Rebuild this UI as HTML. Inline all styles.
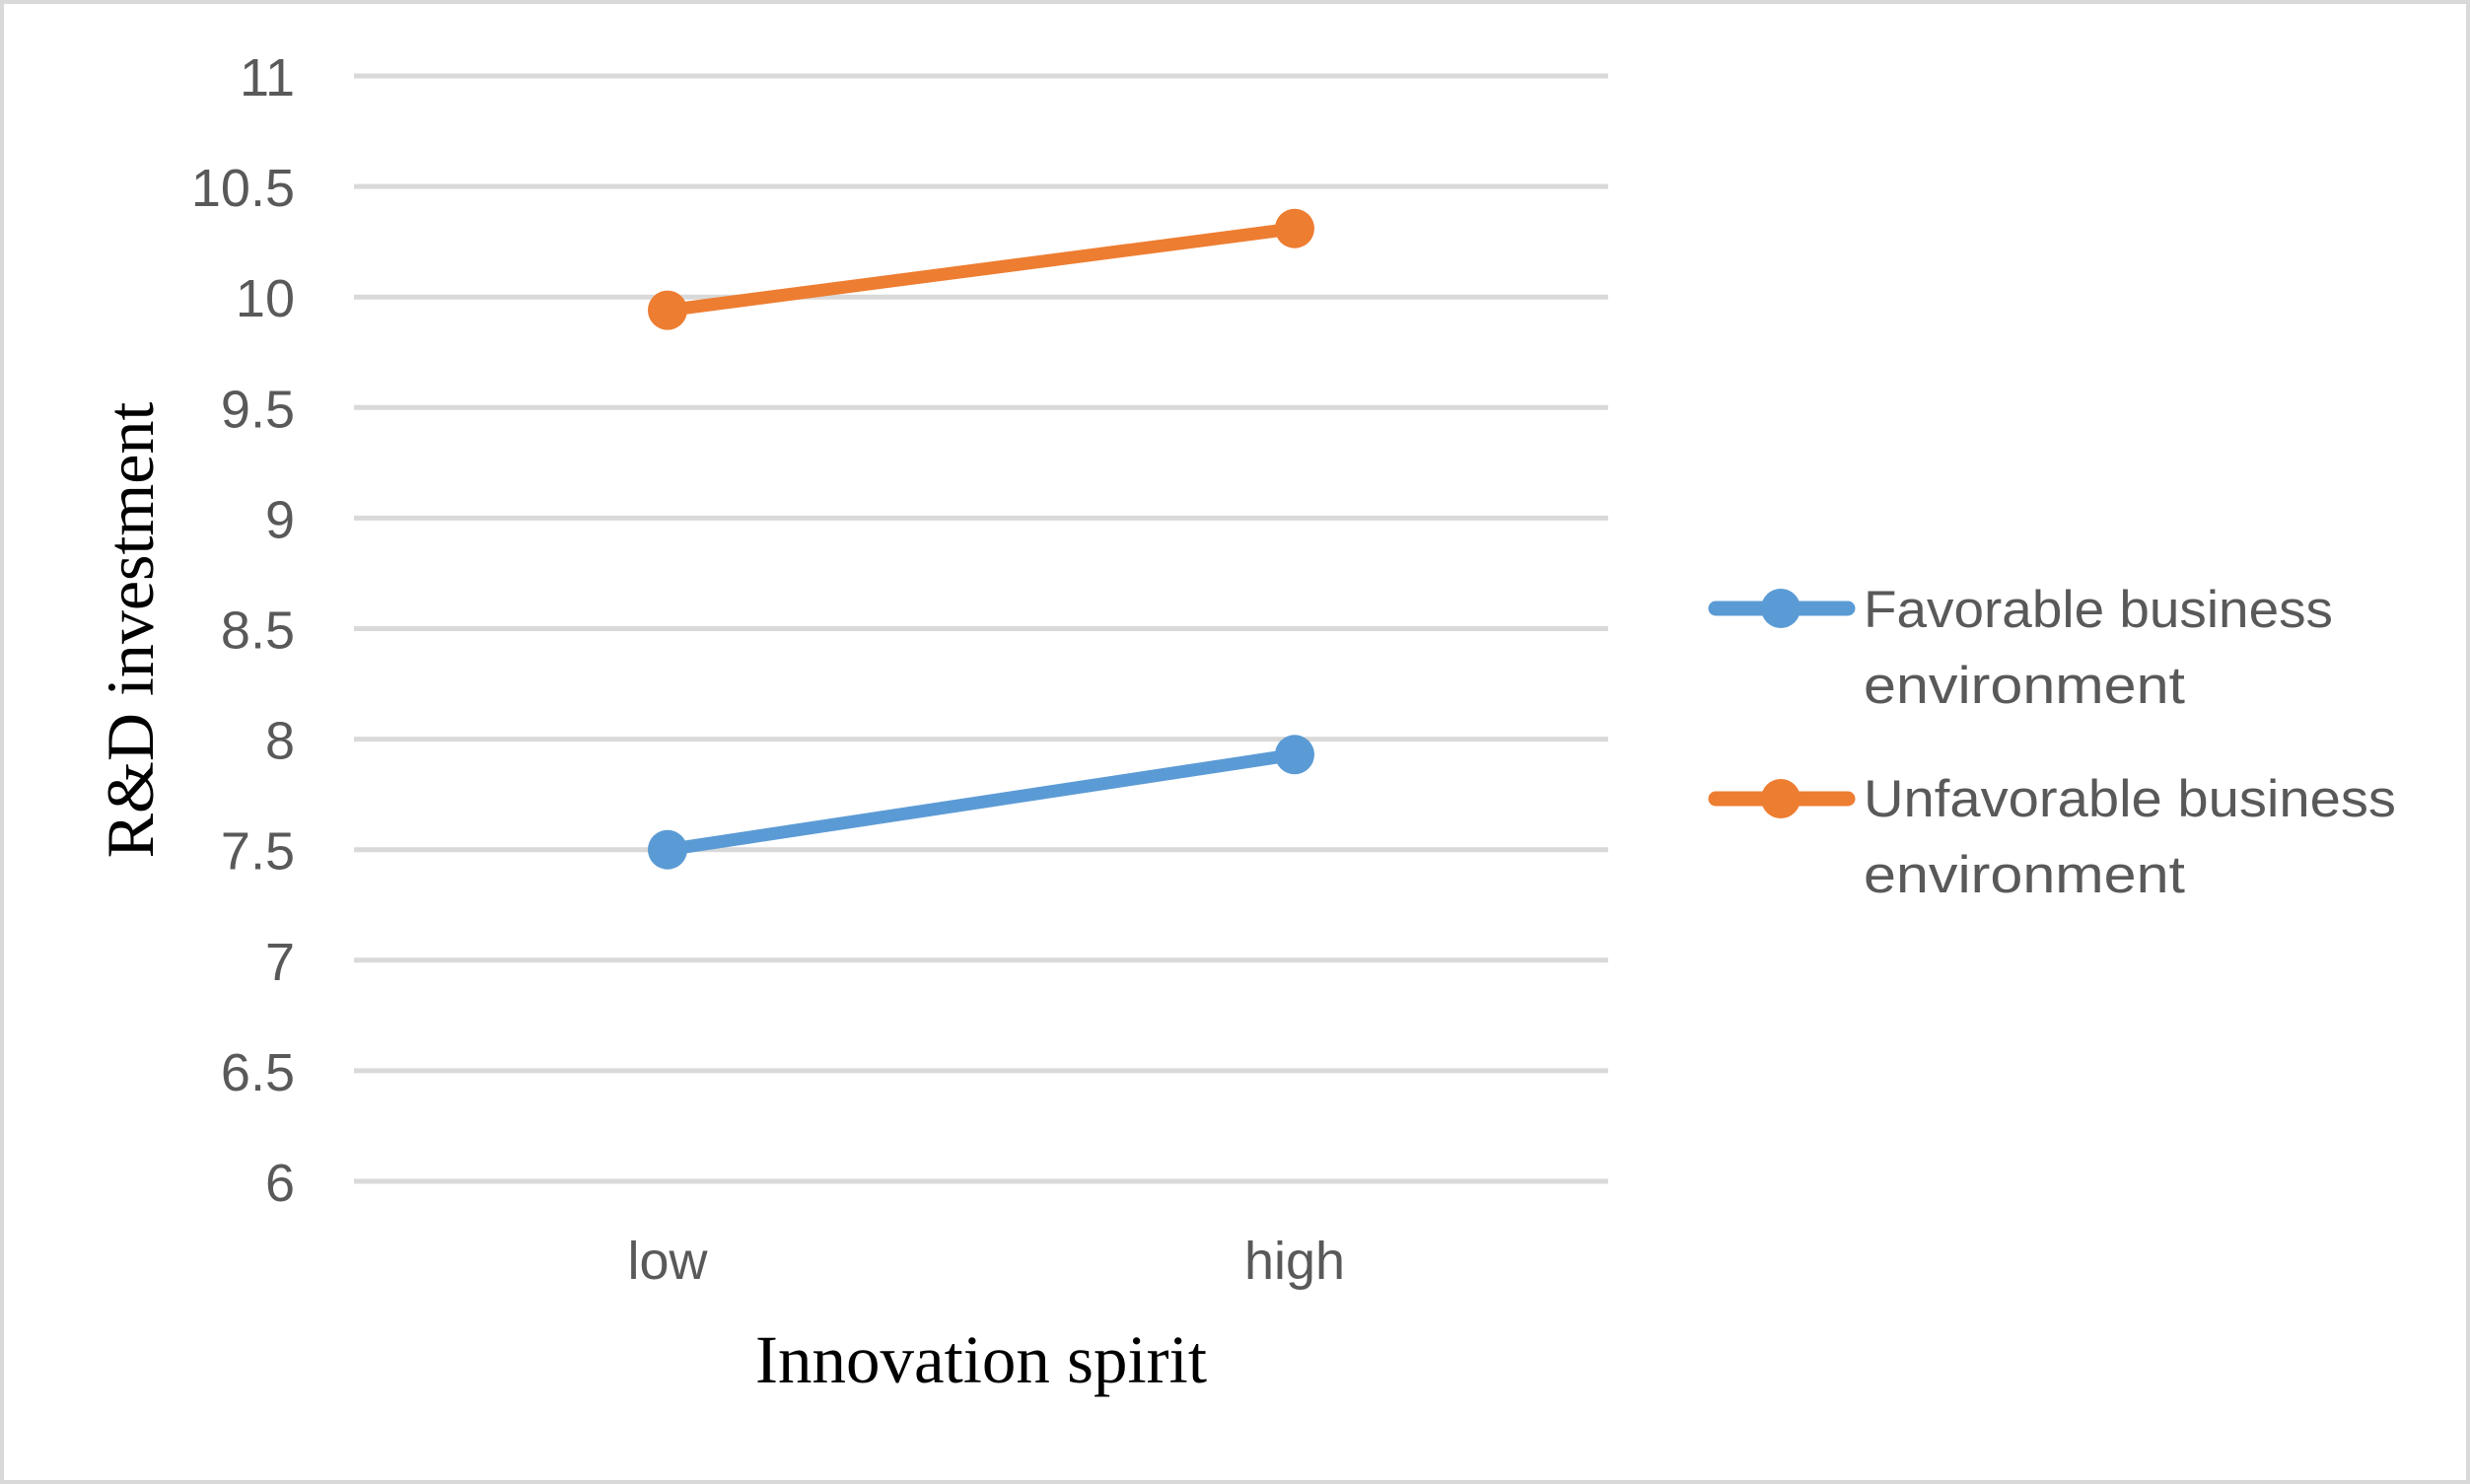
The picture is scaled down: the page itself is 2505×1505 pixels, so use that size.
<!DOCTYPE html>
<html><head><meta charset="utf-8"><style>
html,body{margin:0;padding:0;background:#fff;}
svg{display:block;}
</style></head><body>
<svg width="2505" height="1505" viewBox="0 0 2505 1505" xmlns="http://www.w3.org/2000/svg">
<rect x="2" y="2" width="2501" height="1501" fill="#fff" stroke="#d9d9d9" stroke-width="4"/>
<g id="grid"></g>
<g id="yticks"></g>
<g id="xticks"></g>
<g id="series"></g>
<text x="995" y="1402" text-anchor="middle" font-family="Liberation Serif, serif" font-size="69" fill="#000">Innovation spirit</text>
<text transform="translate(155,639) rotate(-90)" text-anchor="middle" font-family="Liberation Serif, serif" font-size="68" fill="#000">R&amp;D investment</text>
<g>
  <g>
    <line x1="1740" y1="617" x2="1874" y2="617" stroke="#5b9bd5" stroke-width="15" stroke-linecap="round"/>
    <circle cx="1806" cy="617" r="20" fill="#5b9bd5"/>
    <text x="1890" y="636" font-family="Liberation Sans, sans-serif" font-size="53" fill="#595959" textLength="476" lengthAdjust="spacingAndGlyphs">Favorable business</text>
    <text x="1890" y="713" font-family="Liberation Sans, sans-serif" font-size="53" fill="#595959" textLength="326" lengthAdjust="spacingAndGlyphs">environment</text>
  </g>
  <g>
    <line x1="1740" y1="810" x2="1874" y2="810" stroke="#ed7d31" stroke-width="15" stroke-linecap="round"/>
    <circle cx="1806" cy="810" r="20" fill="#ed7d31"/>
    <text x="1890" y="828" font-family="Liberation Sans, sans-serif" font-size="53" fill="#595959" textLength="540" lengthAdjust="spacingAndGlyphs">Unfavorable business</text>
    <text x="1890" y="905" font-family="Liberation Sans, sans-serif" font-size="53" fill="#595959" textLength="326" lengthAdjust="spacingAndGlyphs">environment</text>
  </g>
</g>
</svg>
<script>
const categories = ["low", "high"];
const favorableValues = [7.5, 7.93];
const unfavorableValues = [9.94, 10.31];
const yTickValues = [6, 6.5, 7, 7.5, 8, 8.5, 9, 9.5, 10, 10.5, 11];
const yTickLabels = ["6", "6.5", "7", "7.5", "8", "8.5", "9", "9.5", "10", "10.5", "11"];

const NS = "http://www.w3.org/2000/svg";
const plotL = 359, plotR = 1631, yTop = 77, yBot = 1198, yMin = 6, yMax = 11;
function yScale(v){ return yBot - (v - yMin) / (yMax - yMin) * (yBot - yTop); }
function xScale(i){ const step = (plotR - plotL) / categories.length; return plotL + step * (i + 0.5); }
function mk(tag, attrs, parent){ const e = document.createElementNS(NS, tag); for (const k in attrs) e.setAttribute(k, attrs[k]); parent.appendChild(e); return e; }

const grid = document.getElementById('grid');
const yt = document.getElementById('yticks');
yTickValues.forEach((v, i) => {
  const y = yScale(v);
  const ln = mk('line', {x1: plotL, x2: plotR, y1: y, y2: y, stroke: '#d9d9d9', 'stroke-width': 5}, grid);
  
  
  const t = mk('text', {x: 299, y: y + 20, 'text-anchor': 'end', 'font-family': 'Liberation Sans, sans-serif', 'font-size': 54, fill: '#595959'}, yt);
  t.textContent = yTickLabels[i];
  
  
});
const xt = document.getElementById('xticks');
categories.forEach((c, i) => {
  const t = mk('text', {x: xScale(i), y: 1297, 'text-anchor': 'middle', 'font-family': 'Liberation Sans, sans-serif', 'font-size': 54, fill: '#595959'}, xt);
  t.textContent = c;
  
  
});
const sg = document.getElementById('series');
function drawSeries(vals, color, name){
  const g = mk('g', {}, sg);
  
  
  const pts = vals.map((v, i) => xScale(i) + ',' + yScale(v)).join(' ');
  const pl = mk('polyline', {points: pts, fill: 'none', stroke: color, 'stroke-width': 13, 'stroke-linecap': 'round', 'stroke-linejoin': 'round'}, g);
  
  
  vals.forEach((v, i) => {
    const c = mk('circle', {cx: xScale(i), cy: yScale(v), r: 20, fill: color}, g);
    
    
  });
}
drawSeries(favorableValues, '#5b9bd5', 'favorable-series');
drawSeries(unfavorableValues, '#ed7d31', 'unfavorable-series');
</script>
</body></html>
